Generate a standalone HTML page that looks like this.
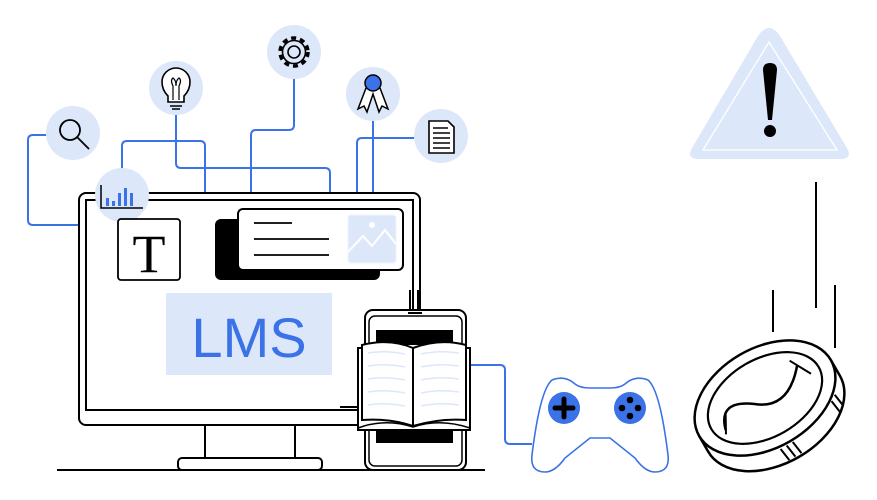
<!DOCTYPE html>
<html><head><style>body{margin:0;background:#fff}svg{display:block}</style></head><body>
<svg width="877" height="500" viewBox="0 0 877 500" xmlns="http://www.w3.org/2000/svg">
<g fill="none" stroke="#3b72e8" stroke-width="2">
<path d="M46 135 H33 Q28 135 28 140 V220 Q28 225 33 225 H79"/>
<path d="M122 168 V146 Q122 141 127 141 H200 Q205 141 205 146 V193"/>
<path d="M176 115 V163 Q176 168 181 168 H325 Q330 168 330 173 V193"/>
<path d="M294 79 V125 Q294 130 289 130 H256 Q251 130 251 135 V193"/>
<path d="M373 121 V193"/>
<path d="M414 138 H362 Q357 138 357 143 V193"/>
<path d="M470 365 H500 Q505 365 505 370 V439 Q505 444 510 444 H532"/>
</g>
<g fill="#dde7fa">
<circle cx="73" cy="133" r="27"/><circle cx="176" cy="88" r="27"/><circle cx="294" cy="52" r="27"/>
<circle cx="373" cy="94" r="27"/><circle cx="441" cy="136" r="27"/>
</g>
<rect x="79" y="193" width="341" height="232" rx="7" fill="#fff" stroke="#000" stroke-width="2"/>
<rect x="86" y="200" width="327" height="210" fill="none" stroke="#000" stroke-width="2"/>
<path d="M205 425 V458 M295 425 V458" stroke="#000" stroke-width="2"/>
<rect x="178" y="458" width="144" height="12" rx="4" fill="#fff" stroke="#000" stroke-width="2"/>
<path d="M57 470 H485" stroke="#000" stroke-width="2"/>
<circle cx="122" cy="195" r="27" fill="#dde7fa"/>
<path d="M101 185 V208 H143" fill="none" stroke="#000" stroke-width="1.5"/>
<g fill="#3b72e8"><rect x="106" y="198" width="3" height="8"/><rect x="112" y="201" width="3" height="5"/><rect x="118" y="193" width="3" height="13"/><rect x="124" y="188" width="3" height="18"/><rect x="130" y="193" width="3" height="13"/></g>
<circle cx="70" cy="130" r="10" fill="none" stroke="#000" stroke-width="1.8"/><path d="M77 137 L89 149" stroke="#000" stroke-width="1.8"/>
<path d="M168 102 V96 Q162 90 162 82 A14 14 0 0 1 190 82 Q190 90 184 96 V102 Z M170 106 H182 M172 109 H180" fill="#fff" stroke="#000" stroke-width="1.6"/>
<path d="M173 100 V86 Q170 80 173 78 Q176 80 176 86 Q176 80 179 78 Q182 80 179 86 V100" fill="none" stroke="#000" stroke-width="1.2"/>
<circle cx="294" cy="52" r="14" fill="none" stroke="#000" stroke-width="3.5" stroke-dasharray="5 4"/>
<circle cx="294" cy="52" r="11.5" fill="none" stroke="#000" stroke-width="1.6"/>
<circle cx="294" cy="52" r="6" fill="none" stroke="#000" stroke-width="1.6"/>
<path d="M366 88 L358 109 L364 106 L367 112 L373 94 L379 112 L382 106 L388 109 L380 88" fill="#fff" stroke="#000" stroke-width="1.5"/>
<circle cx="373" cy="83" r="8" fill="#3b72e8" stroke="#000" stroke-width="1.5"/>
<path d="M429 121 H448 L454 127 V153 H429 Z" fill="#fff" stroke="#000" stroke-width="1.6"/>
<path d="M433 128 H448 M433 133 H450 M433 138 H450 M433 143 H450 M433 148 H450" stroke="#000" stroke-width="1.4"/>
<rect x="118" y="219" width="62" height="61" rx="3" fill="#fff" stroke="#000" stroke-width="1.8"/>
<text x="149" y="272" text-anchor="middle" font-family="Liberation Serif, serif" font-size="54">T</text>
<rect x="215" y="219" width="165" height="61" rx="6" fill="#000"/>
<rect x="238" y="209" width="165" height="61" rx="5" fill="#fff" stroke="#000" stroke-width="2"/>
<path d="M254 223 H292 M254 239 H329 M254 255 H329" stroke="#000" stroke-width="1.8"/>
<rect x="348" y="215" width="48" height="48" rx="3" fill="#dde7fa" stroke="#eef3fd" stroke-width="1"/>
<path d="M348 252 L363 236 L372 246 L385 230 L396 244" fill="none" stroke="#fff" stroke-width="2"/>
<circle cx="372" cy="225" r="3" fill="#fff"/>
<rect x="166" y="293" width="166" height="82" fill="#dde7fa"/>
<text x="249" y="357" text-anchor="middle" font-family="Liberation Sans, sans-serif" font-size="56" fill="#3b72e8">LMS</text>
<path d="M410 290 V310 M418 290 V310" stroke="#000" stroke-width="2"/>
<rect x="365" y="310" width="101" height="160" rx="8" fill="#fff" stroke="#000" stroke-width="2"/>
<rect x="369" y="316" width="93" height="150" rx="6" fill="none" stroke="#000" stroke-width="1.5"/>
<path d="M408 313 H422" stroke="#000" stroke-width="2"/>
<rect x="376" y="330" width="77" height="15" fill="#000"/><rect x="376" y="425" width="77" height="18" fill="#000"/>
<path d="M340 407 H357 M340 425 H357" stroke="#000" stroke-width="2"/>
<path d="M358 348 H470 V430 H358 Z" fill="#fff" stroke="#000" stroke-width="2"/>
<path d="M362 345 Q390 338 413 348 Q440 338 466 345 V420 Q440 418 413 426 Q390 418 362 420 Z" fill="#fff" stroke="#000" stroke-width="2"/>
<path d="M413 348 V426" stroke="#000" stroke-width="2"/>
<g stroke="#dde7fa" stroke-width="1.5" fill="none"><path d="M368 353 Q385 350 405 354 M368 366 Q385 363 405 367 M368 379 Q385 376 405 380 M368 392 Q385 389 405 393 M368 405 Q385 402 405 406"/><path d="M421 354 Q440 350 459 353 M421 367 Q440 363 459 366 M421 380 Q440 376 459 379 M421 393 Q440 389 459 392 M421 406 Q440 402 459 405"/></g>
<path d="M358 428 Q385 418 413 427 Q440 418 470 428" fill="none" stroke="#000" stroke-width="1.5"/>
<path d="M552 380 Q565 375 575 384 Q580 388 590 388 H610 Q620 388 625 384 Q635 375 648 380 Q660 390 668 455 Q670 472 655 472 Q645 472 635 458 L610 438 H590 L565 458 Q555 472 545 472 Q530 472 532 455 Q540 390 552 380 Z" fill="#fff" stroke="#3b72e8" stroke-width="1.6"/>
<circle cx="564" cy="408" r="16" fill="#3b72e8"/><circle cx="630" cy="408" r="16" fill="#3b72e8"/>
<path d="M564 399 V417 M555 408 H573" stroke="#000" stroke-width="5" stroke-linecap="round"/>
<g fill="#000"><circle cx="630" cy="400" r="3.3"/><circle cx="630" cy="416" r="3.3"/><circle cx="622" cy="408" r="3.3"/><circle cx="638" cy="408" r="3.3"/></g>
<g transform="translate(765 398) rotate(-30)">
<path d="M-76 0 V18 A76 50 0 0 0 76 18 V0" fill="#fff" stroke="#000" stroke-width="2.5"/>
<ellipse cx="0" cy="0" rx="76" ry="50" fill="#fff" stroke="#000" stroke-width="2.5"/>
<ellipse cx="0" cy="0" rx="62" ry="39" fill="none" stroke="#000" stroke-width="2.2"/>
<path d="M-50 8 Q-42 -22 -12 0 Q15 22 44 -12" fill="none" stroke="#000" stroke-width="2.5"/>
<path d="M-42 -6 L-52 12 M40 -20 L52 2" stroke="#000" stroke-width="2"/>
<path d="M-12 52 L-10 66 M-5 52 L-3 66 M2 52 L4 66 M56 36 L58 50 M62 32 L64 46" stroke="#000" stroke-width="2"/>
</g>
<path d="M816 182 V308 M773 290 V332 M835 285 V348" stroke="#000" stroke-width="2"/>
<path d="M758 36 Q769 20 780 36 L847 148 Q853 159 840 159 H699 Q686 159 692 148 Z" fill="#dde7fa"/>
<path d="M769 42 L837 150 H703 Z" fill="none" stroke="#fff" stroke-width="1.3"/>
<path d="M763 70 Q763 63 770 63 Q777 63 777 70 L772 120 H768 Z" fill="#000"/>
<circle cx="770" cy="131" r="6" fill="#000"/>
</svg>
</body></html>
